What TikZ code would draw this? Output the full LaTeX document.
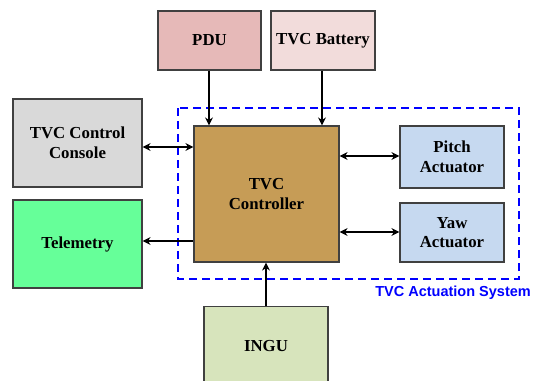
\documentclass[tikz,border=0pt]{standalone}
\usepackage{fontspec}
\setmainfont{Liberation Serif}
\newfontfamily\arialfont{Liberation Sans}
\usetikzlibrary{arrows.meta}
\definecolor{pducol}{HTML}{E6B9B8}
\definecolor{batcol}{HTML}{F2DCDB}
\definecolor{concol}{HTML}{D9D9D9}
\definecolor{telcol}{HTML}{66FF99}
\definecolor{ctrlcol}{HTML}{C69C56}
\definecolor{actcol}{HTML}{C6D9F0}
\definecolor{ingucol}{HTML}{D7E4BC}
\definecolor{edgecol}{HTML}{404040}
\tikzset{
  blk/.style={draw=edgecol, line width=1.2pt, font=\fontsize{16.8}{19.5}\selectfont\bfseries, align=center},
  conn/.style={line width=1.6pt, -{Stealth[length=8pt,width=8pt]}},
  bconn/.style={line width=1.6pt, {Stealth[length=8pt,width=8pt]}-{Stealth[length=8pt,width=8pt]}},
}
\begin{document}
\begin{tikzpicture}[x=1pt,y=-1pt]
\useasboundingbox (0,0) rectangle (535,380);
\clip (0,0) rectangle (535,380);
\fill[white] (0,0) rectangle (535,380);
% dashed system box
\draw[blue, line width=2pt, dash pattern=on 8pt off 5pt] (178,108) rectangle (519,279);
\node[anchor=east, text=blue, font=\arialfont\fontsize{14.5}{17}\selectfont\bfseries, inner sep=0pt] (lbl) at (531,293) {TVC Actuation System};
% blocks
\node[blk, fill=pducol, minimum width=103pt, minimum height=59pt] (pdu) at (209.5,40.5) {PDU};
\node[blk, fill=batcol, minimum width=104pt, minimum height=59pt] (bat) at (323,40.5) {TVC Battery};
\node[blk, fill=concol, minimum width=129pt, minimum height=88pt] (con) at (77.5,143) {TVC Control\\Console};
\node[blk, fill=telcol, minimum width=129pt, minimum height=88pt] (tel) at (77.5,244) {Telemetry};
\node[blk, fill=ctrlcol, minimum width=145pt, minimum height=136pt] (ctrl) at (266.5,194) {TVC\\Controller};
\node[blk, fill=actcol, minimum width=104pt, minimum height=62pt] (pit) at (452,157) {Pitch\\Actuator};
\node[blk, fill=actcol, minimum width=104pt, minimum height=59pt] (yaw) at (452,232.5) {Yaw\\Actuator};
\node[blk, fill=ingucol, minimum width=124pt, minimum height=80pt, anchor=north] (ingu) at (266,306) {};
\node[font=\fontsize{16.8}{19.5}\selectfont\bfseries] (ingut) at (266,346) {INGU};
% connectors
\draw[conn] (pdu.south -| 209,0) -- (ctrl.north -| 209,0);
\draw[conn] (bat.south -| 322,0) -- (ctrl.north -| 322,0);
\draw[bconn] (con.east |- 0,147) -- (ctrl.west |- 0,147);
\draw[bconn] (ctrl.east |- 0,156) -- (pit.west |- 0,156);
\draw[bconn] (ctrl.east |- 0,232) -- (yaw.west |- 0,232);
\draw[conn] (ctrl.west |- 0,241) -- (tel.east |- 0,241);
\draw[conn] (ingu.north) -- (ctrl.south -| ingu.north);
\end{tikzpicture}
\end{document}
